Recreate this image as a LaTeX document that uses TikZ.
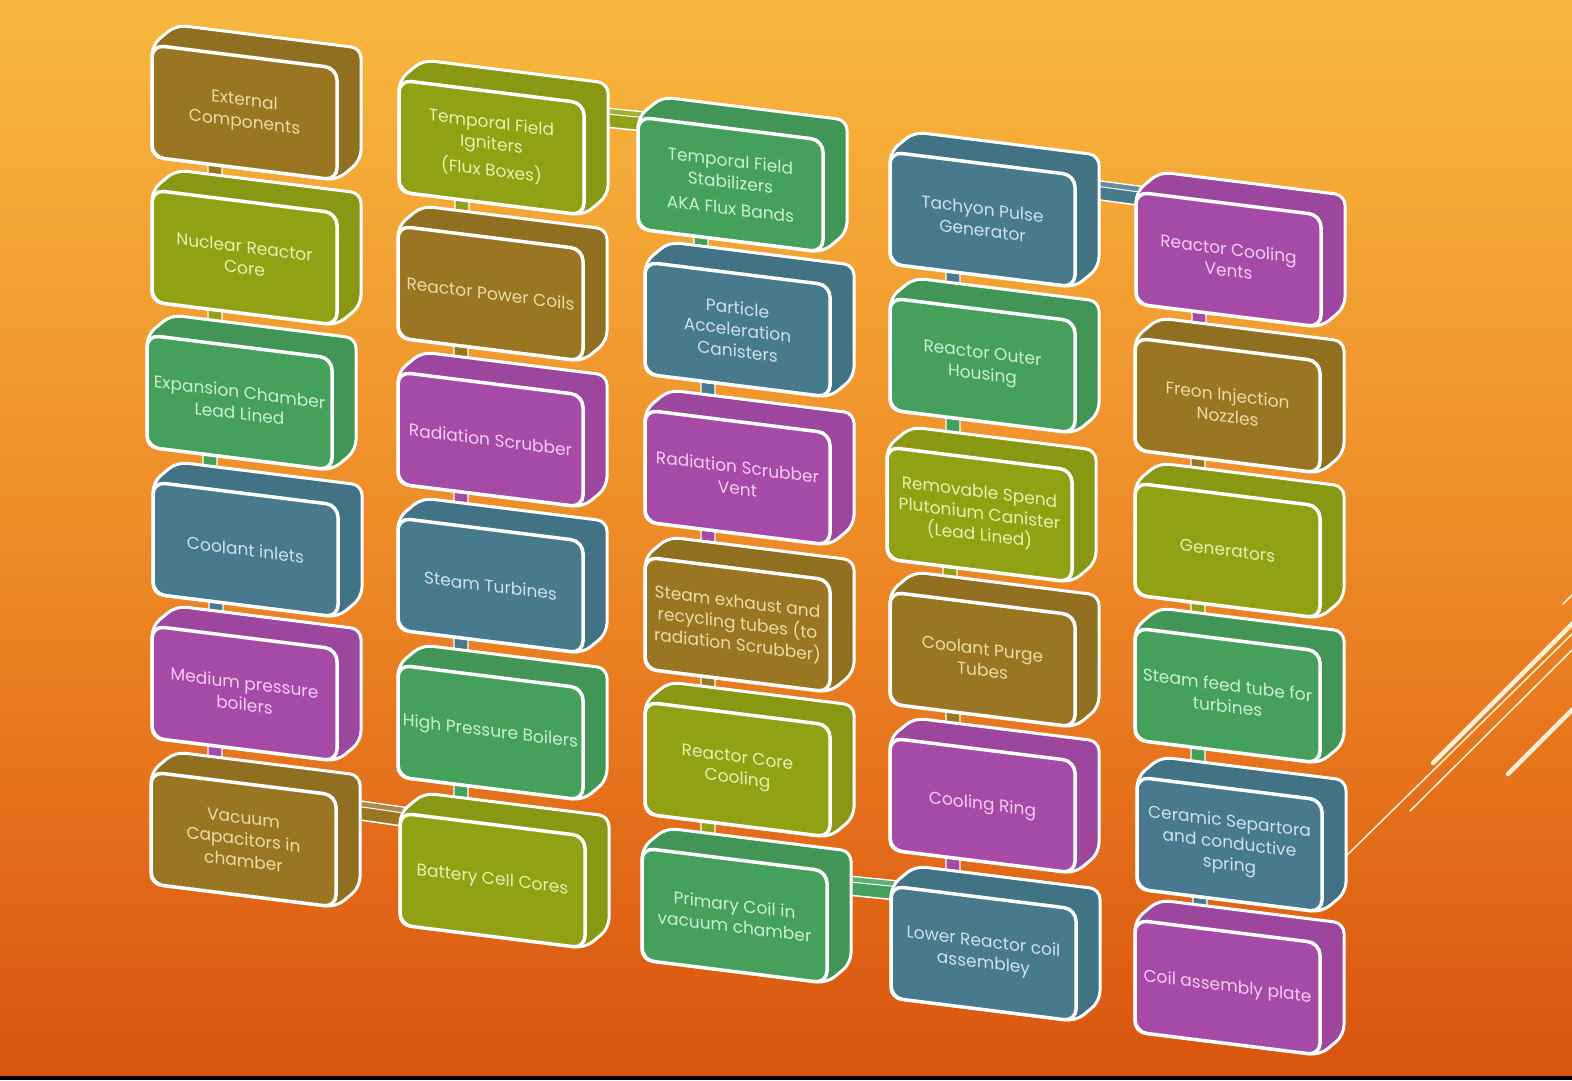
\documentclass[tikz,border=0pt]{standalone}
\usepackage{fontspec}
\newfontfamily\boxfam{Poppins}
\usetikzlibrary{calc}
\definecolor{cbr}{HTML}{9A7622}
\definecolor{cyg}{HTML}{92A114}
\definecolor{cgr}{HTML}{45A05C}
\definecolor{cte}{HTML}{467A8C}
\definecolor{cpu}{HTML}{A64AA8}
\definecolor{tbr}{HTML}{EBDCA6}
\definecolor{tyg}{HTML}{E8F0AE}
\definecolor{tgr}{HTML}{CDEFD2}
\definecolor{tte}{HTML}{CFE1EC}
\definecolor{tpu}{HTML}{F5CDF5}
\definecolor{bgtop}{HTML}{F7B83E}
\definecolor{bgmid}{HTML}{EE8B27}
\definecolor{bgbot}{HTML}{DA540F}
\definecolor{deco}{HTML}{FFF3D6}
\pgfdeclarelayer{back}
\pgfdeclarelayer{conn}
\pgfsetlayers{back,conn,main}
\tikzset{
  boxtext/.style={transform shape, align=center, inner sep=0pt,
    font=\boxfam\fontsize{17}{21.5}\selectfont},
  decoline/.style={draw=deco, line cap=round},
}
% #1 name, #2 x, #3 y (image), #4 colour key, #5 tab flag, #6 text
\newcommand\rbox[6]{%
  \begin{scope}[shift={(#2,-#3)},yslant=-0.125]
    \filldraw[fill=c#4!94!black,draw=white,line width=3pt,rounded corners=10pt]
      (0,0)--(24,23)--(209,23)--(209,-89)--(185,-112)--(0,-112)--cycle;
    \filldraw[fill=c#4,draw=white,line width=3.5pt,rounded corners=12pt]
      (0,0) rectangle (185,-112);
    \node[boxtext,text=t#4] (#1) at (92.5,-56) {#6};
    \coordinate (#1-rt) at (195,-2.6);
    \coordinate (#1-rb) at (195,-21.6);
    \coordinate (#1-lt) at (15,6);
    \coordinate (#1-lb) at (15,-13);
    \ifnum#5=1
    \begin{pgfonlayer}{conn}
      \filldraw[fill=c#4,draw=white,line width=1.2pt] (56,-105) rectangle (70,-128);
    \end{pgfonlayer}
    \fi
  \end{scope}}
% horizontal link from #1 to #2 in colour #3
\newcommand\hconn[3]{%
  \begin{pgfonlayer}{conn}
    \filldraw[fill=c#3,draw=white,line width=1.5pt]
      (#1-rt)--(#2-lt)--(#2-lb)--(#1-rb)--cycle;
    \filldraw[fill=c#3!85!white,draw=white,line width=1pt]
      (#1-rt)--(#2-lt)--($(#2-lt)!0.3!(#2-lb)$)--($(#1-rt)!0.3!(#1-rb)$)--cycle;
  \end{pgfonlayer}}
\begin{document}
\begin{tikzpicture}[x=1pt,y=1pt]
\useasboundingbox (0,0) rectangle (1572,-1080);
\begin{pgfonlayer}{back}
  \shade[top color=bgtop, bottom color=bgbot, middle color=bgmid] (0,0) rectangle (1572,-1076);
  \fill[black] (0,-1076) rectangle (1572,-1080);
  \draw[decoline, line width=1.5pt] (1340,-862) -- (1572,-634);
  \draw[decoline, line width=1.5pt] (1410,-811) -- (1572,-650);
  \draw[decoline, line width=4.5pt] (1433,-763) -- (1575,-621);
  \draw[decoline, line width=4.5pt] (1508,-774) -- (1575,-707);
  \draw[decoline, line width=1.5pt] (1563,-604) -- (1575,-592);
\end{pgfonlayer}
% column 1
\rbox{b11}{152}{45}{br}{1}{External\\Components}
\rbox{b12}{152}{190}{yg}{1}{Nuclear Reactor\\Core}
\rbox{b13}{147}{335}{gr}{1}{Expansion Chamber\\Lead Lined}
\rbox{b14}{153}{482}{te}{1}{Coolant inlets}
\rbox{b15}{152}{626}{pu}{1}{Medium pressure\\boilers}
\rbox{b16}{151}{772}{br}{0}{Vacuum\\Capacitors in\\chamber}
% column 2
\rbox{b21}{399}{80}{yg}{1}{Temporal Field\\Igniters\\[5pt](Flux Boxes)}
\rbox{b22}{398}{226}{br}{1}{Reactor Power Coils}
\rbox{b23}{398}{372}{pu}{1}{Radiation Scrubber}
\rbox{b24}{398}{518}{te}{1}{Steam Turbines}
\rbox{b25}{398}{665}{gr}{1}{High Pressure Boilers}
\rbox{b26}{400}{813}{yg}{0}{Battery Cell Cores}
% column 3
\rbox{b31}{638}{117}{gr}{1}{Temporal Field\\Stabilizers\\[5pt]AKA Flux Bands}
\rbox{b32}{645}{262}{te}{1}{Particle\\Acceleration\\Canisters}
\rbox{b33}{645}{410}{pu}{1}{Radiation Scrubber\\Vent}
\rbox{b34}{645}{557}{br}{1}{Steam exhaust and\\recycling tubes (to\\radiation Scrubber)}
\rbox{b35}{645}{702}{yg}{1}{Reactor Core\\Cooling}
\rbox{b36}{642}{848}{gr}{0}{Primary Coil in\\vacuum chamber}
% column 4
\rbox{b41}{890}{152}{te}{1}{Tachyon Pulse\\Generator}
\rbox{b42}{890}{298}{gr}{1}{Reactor Outer\\Housing}
\rbox{b43}{887}{447}{yg}{1}{Removable Spend\\Plutonium Canister\\(Lead Lined)}
\rbox{b44}{890}{592}{br}{1}{Coolant Purge\\Tubes}
\rbox{b45}{890}{738}{pu}{1}{Cooling Ring}
\rbox{b46}{891}{886}{te}{0}{Lower Reactor coil\\assembley}
% column 5
\rbox{b51}{1136}{192}{pu}{1}{Reactor Cooling\\Vents}
\rbox{b52}{1135}{338}{br}{1}{Freon Injection\\Nozzles}
\rbox{b53}{1135}{483}{yg}{1}{Generators}
\rbox{b54}{1135}{628}{gr}{1}{Steam feed tube for\\turbines}
\rbox{b55}{1137}{777}{te}{1}{Ceramic Separtora\\and conductive\\spring}
\rbox{b56}{1135}{920}{pu}{0}{Coil assembly plate}
% horizontal links
\hconn{b16}{b26}{br}
\hconn{b21}{b31}{yg}
\hconn{b36}{b46}{gr}
\hconn{b41}{b51}{te}
\end{tikzpicture}
\end{document}
